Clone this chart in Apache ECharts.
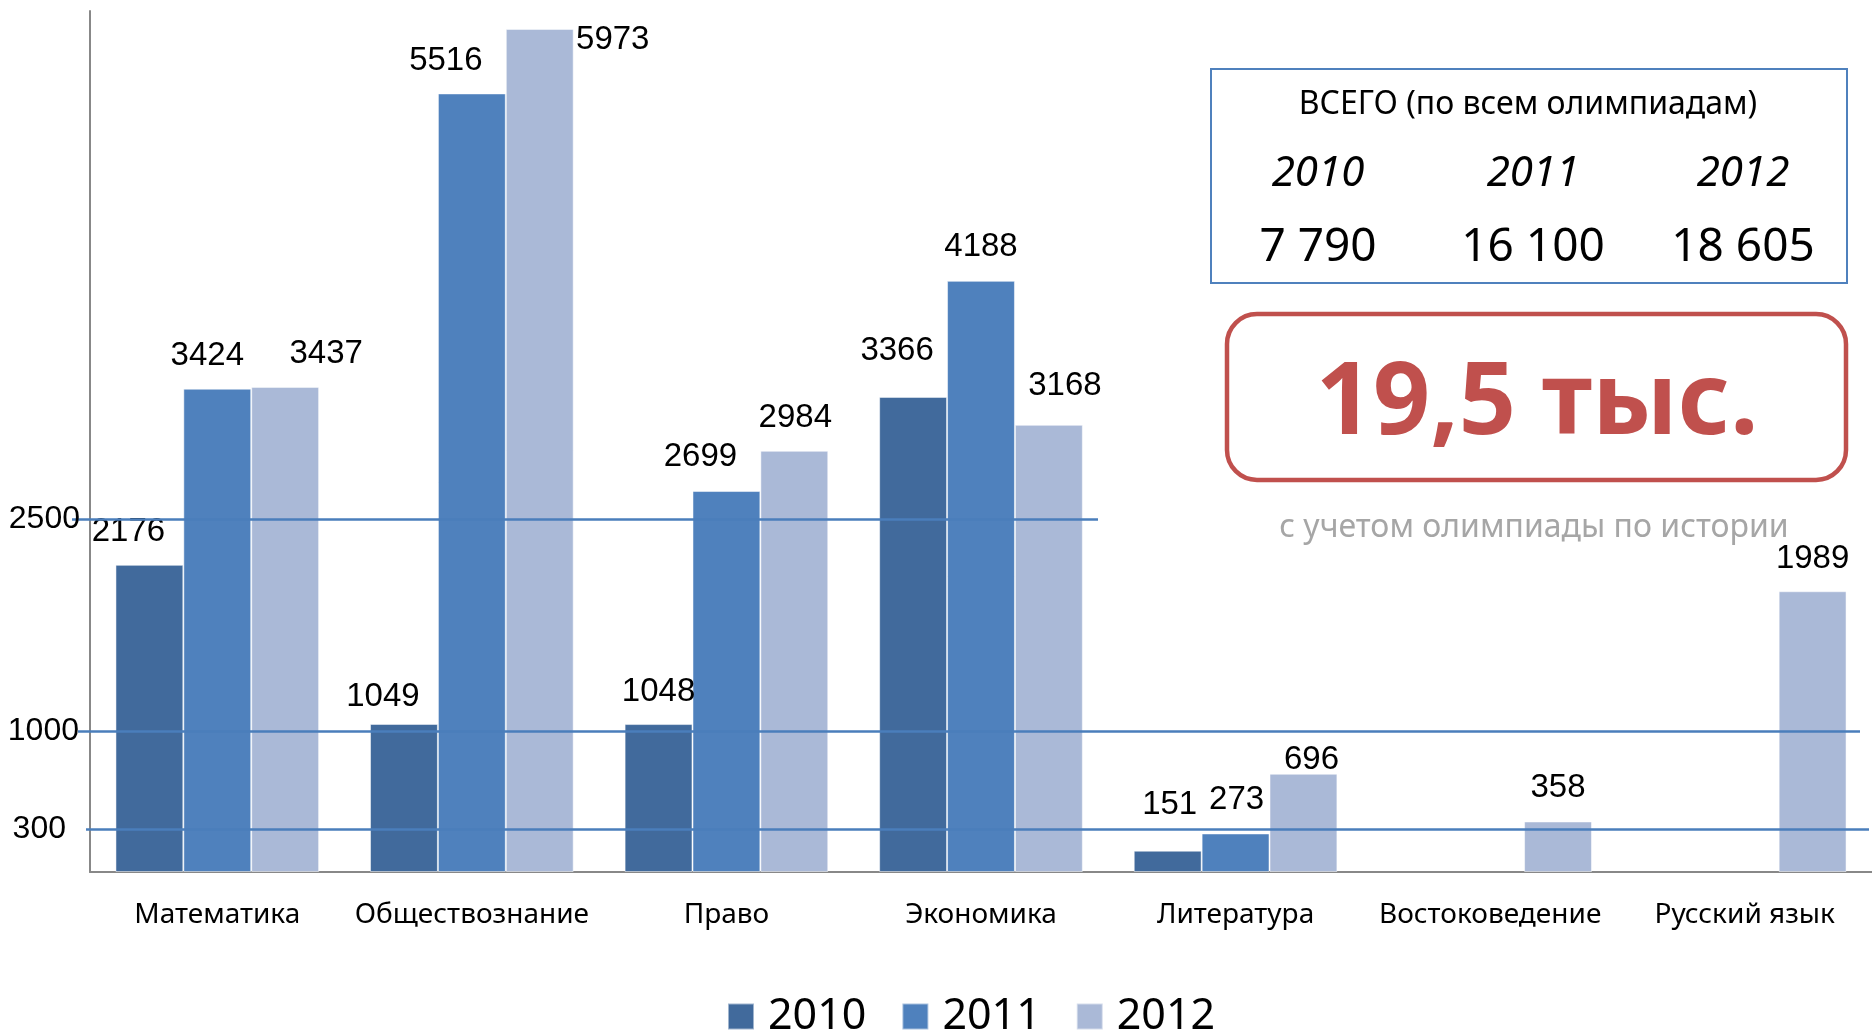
<!DOCTYPE html>
<html>
<head>
<meta charset="utf-8">
<title>Олимпиады</title>
<script src="https://cdn.jsdelivr.net/npm/echarts@6/dist/echarts.min.js"></script>
<style>
  html, body { margin: 0; padding: 0; background: #fff; }
  #chart { width: 1872px; height: 1034px; }
</style>
</head>
<body>
<div id="chart"></div>
<script>
// categories and values
const subjects = ["Математика", "Обществознание", "Право", "Экономика", "Литература", "Востоковедение", "Русский язык"];
const years = ["2010", "2011", "2012"];
const values2010 = [2176, 1049, 1048, 3366, 151, null, null];
const values2011 = [3424, 5516, 2699, 4188, 273, null, null];
const values2012 = [3437, 5973, 2984, 3168, 696, 358, 1989];

// reference lines drawn by hand in the original
const refLevels = [2500, 1000, 300];

// totals box
const totalYears = ["2010", "2011", "2012"];
const totalValues = ["7 790", "16 100", "18 605"];
const bigNote = "19,5 тыс.";
const smallNote = "с учетом олимпиады по истории";

const colors = ["#416A9C", "#4F81BD", "#AAB9D7"];

// label nudges (px), the original has some labels dragged around
const nudges = [
    [[-21, 0], [-21, 5], [0, 0], [-16, -13], [2, -13], null, null],
    [[-10, 0], [-26, 0], [-26, -2], [0, -1], [1, -1], null, null],
    [[41, 0], [73, 43], [1, 0], [16, -6], [8, 19], [0, -1], [0, 0]]
];

// pixel extents of the hand-drawn lines [xStart, xEnd, labelDistance]
const refExtents = [[72, 1098, -8], [78, 1860, -1], [86, 1869, 20]];

const chart = echarts.init(document.getElementById("chart"), null, { renderer: "canvas" });

function buildSeries(name, values, idx) {
    return {
        name: name,
        type: "bar",
        barGap: "0%",
        barCategoryGap: "20%",
        itemStyle: { color: colors[idx], borderColor: "rgba(255,255,255,0.5)", borderWidth: 1 },
        label: {
            show: true,
            position: "top",
            distance: 16,
            color: "#000",
            fontSize: 33,
            fontFamily: "Liberation Sans"
        },
        data: values.map((v, i) => {
            if (v == null) return null;
            const n = nudges[idx][i];
            return n ? { value: v, label: { offset: n } } : v;
        })
    };
}

const allSeries = [
    buildSeries(years[0], values2010, 0),
    buildSeries(years[1], values2011, 1),
    buildSeries(years[2], values2012, 2)
];

// reference lines attached to the first series
allSeries[0].markLine = {
    silent: true,
    symbol: "none",
    animation: false,
    lineStyle: { color: "#4A7EBB", width: 2.5, type: "solid" },
    label: {
        show: true,
        position: "start",
        color: "#000",
        fontSize: 32,
        fontFamily: "Liberation Sans"
    },
    data: refLevels.map((lvl, i) => [
        { yAxis: lvl, x: refExtents[i][0], label: { formatter: String(lvl), distance: refExtents[i][2] } },
        { yAxis: lvl, x: refExtents[i][1] }
    ])
};

const boxFont = "Noto Sans";
const colX = [1318, 1533, 1743];

const graphics = [
    {
        type: "rect",
        shape: { x: 1211, y: 69, width: 636, height: 214 },
        style: { fill: "#fff", stroke: "#4F81BD", lineWidth: 2 }
    },
    {
        type: "text",
        x: 1528, y: 105,
        style: { text: "ВСЕГО (по всем олимпиадам)", font: "32px " + boxFont, fill: "#000", align: "center", verticalAlign: "middle" }
    },
    {
        type: "rect",
        shape: { x: 1227, y: 314, width: 619, height: 166, r: 30 },
        style: { fill: "#fff", stroke: "#C0504D", lineWidth: 4.5 }
    },
    {
        type: "text",
        x: 1537, y: 406,
        style: { text: bigNote, font: "bold 100px " + boxFont, fill: "#C0504D", align: "center", verticalAlign: "middle" }
    },
    {
        type: "text",
        x: 1534, y: 528,
        style: { text: smallNote, font: "32px " + boxFont, fill: "#A6A6A6", align: "center", verticalAlign: "middle" }
    }
];
totalYears.forEach((y, i) => {
    graphics.push({
        type: "text", x: colX[i], y: 174,
        style: { text: y, font: "italic 42px " + boxFont, fill: "#000", align: "center", verticalAlign: "middle" }
    });
    graphics.push({
        type: "text", x: colX[i], y: 248,
        style: { text: totalValues[i], font: "46px " + boxFont, fill: "#000", align: "center", verticalAlign: "middle" }
    });
});

const option = {
    animation: false,
    grid: { left: 90, top: 11, width: 1790, height: 861 },
    legend: {
        data: years,
        left: 722,
        top: 990,
        icon: "rect",
        itemWidth: 26,
        itemHeight: 26,
        itemGap: 35,
        textStyle: { fontSize: 43, fontFamily: "Noto Sans", color: "#000", padding: [0, 0, 0, 9] }
    },
    xAxis: {
        type: "category",
        data: subjects,
        axisLine: { lineStyle: { color: "#888", width: 2 } },
        axisTick: { show: false },
        axisLabel: { color: "#000", fontSize: 28, fontFamily: "Noto Sans", margin: 29, interval: 0 }
    },
    yAxis: {
        type: "value",
        min: 0,
        max: 6100,
        axisLine: { show: true, lineStyle: { color: "#888", width: 2 } },
        axisTick: { show: false },
        axisLabel: { show: false },
        splitLine: { show: false }
    },
    series: allSeries,
    graphic: graphics
};

chart.setOption(option);
</script>
</body>
</html>
